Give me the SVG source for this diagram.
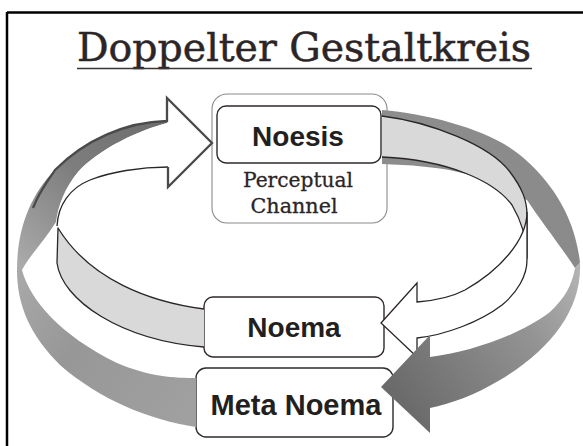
<svg xmlns="http://www.w3.org/2000/svg" width="583" height="446" viewBox="0 0 583 446">
<defs>
<style>
.frame{fill:none;stroke:#000;stroke-width:2.5}
.title{font-family:"DejaVu Serif","Liberation Serif",serif;font-size:40px;fill:#2b2527;stroke:#2b2527;stroke-width:0.5}
.serif{font-family:"DejaVu Serif","Liberation Serif",serif;font-size:21px;fill:#2b2527;stroke:#2b2527;stroke-width:0.3}
.lbl{font-family:"Liberation Sans",Arial,sans-serif;font-weight:bold;fill:#231f20;text-anchor:middle}
.box{fill:#fff;stroke:#2f2a2b;stroke-width:1.4}
.outerbox{fill:#fff;stroke:#8a8a8a;stroke-width:1.1}
.light{fill:#d9d9d9;stroke:#2a2526;stroke-width:1.3;stroke-linejoin:round}
.white{fill:#fff;stroke:#2a2526;stroke-width:1.3;stroke-linejoin:miter}
.edge{fill:none;stroke:#2a2526;stroke-width:1.3}
.thick{fill:none;stroke:#4a4a4a;stroke-width:2.3;stroke-linejoin:miter}
</style>
<linearGradient id="gR1" gradientUnits="userSpaceOnUse" x1="380" y1="110" x2="580" y2="265">
<stop offset="0" stop-color="#8d8d8d"/><stop offset="1" stop-color="#8a8a8a"/>
</linearGradient>
<linearGradient id="gR2" gradientUnits="userSpaceOnUse" x1="578" y1="268" x2="395" y2="395">
<stop offset="0" stop-color="#b3b3b3"/><stop offset="0.35" stop-color="#939393"/><stop offset="1" stop-color="#6a6a6a"/>
</linearGradient>
<linearGradient id="gL1" gradientUnits="userSpaceOnUse" x1="20" y1="270" x2="196" y2="405">
<stop offset="0" stop-color="#a9a9a9"/><stop offset="0.4" stop-color="#979797"/><stop offset="1" stop-color="#a0a0a0"/>
</linearGradient>
<linearGradient id="gL2" gradientUnits="userSpaceOnUse" x1="20" y1="265" x2="167" y2="118">
<stop offset="0" stop-color="#aaaaaa"/><stop offset="0.5" stop-color="#7e7e7e"/><stop offset="1" stop-color="#6c6c6c"/>
</linearGradient>
</defs>

<path class="frame" d="M7,12.5 H583 M7,12 V446"/>

<g id="title">
<text class="title" x="77" y="61" textLength="454" lengthAdjust="spacingAndGlyphs">Doppelter Gestaltkreis</text>
<line x1="77" y1="68.5" x2="532" y2="68.5" stroke="#3a3435" stroke-width="1.6"/>
</g>

<g id="perceptual-channel">
<rect class="outerbox" x="212" y="94" width="175" height="129" rx="15"/>
<text class="serif" x="298" y="187" text-anchor="middle" textLength="110" lengthAdjust="spacingAndGlyphs">Perceptual</text>
<text class="serif" x="294" y="213" text-anchor="middle" textLength="87" lengthAdjust="spacingAndGlyphs">Channel</text>
</g>

<g id="noesis">
<rect class="box" x="217" y="106" width="164" height="57" rx="9"/>
<text class="lbl" x="298" y="146" font-size="28">Noesis</text>
</g>

<g id="noema">
<rect class="box" x="204" y="297" width="180" height="60" rx="9"/>
<text class="lbl" x="294" y="337" font-size="28">Noema</text>
</g>

<g id="meta-noema">
<rect class="box" x="196" y="368" width="197" height="69" rx="10"/>
<text class="lbl" x="296" y="415" font-size="29">Meta Noema</text>
</g>

<g id="connectors">
<!-- outer dark ribbon -->
<path fill="url(#gL1)" d="M22,270 C30,300 60,335 117,363 C150,377 175,378 196,378 L196,427 C150,420 100,400 60,365 C30,335 17,305 17,270 Z"/>
<path fill="url(#gL2)" d="M17,270 C17,230 30,195 55,170 C85,140 125,122 167,121 L167,123 C140,130 100,148 78,172 C65,188 58,205 56,222 C45,240 30,255 22,270 Z"/>
<path fill="url(#gR1)" d="M382,110 C430,114 490,130 520,155 C550,180 575,215 580,263 L575,268 C560,245 540,220 527,200 L505,193 C480,172 440,166 382,164 Z"/>
<!-- inner ribbon -->
<path class="light" d="M382,116 C430,122 490,145 510,172 C522,188 527,200 527,215 L527,258 C527,240 522,222 512,205 C495,182 450,160 382,157"/>
<path class="light" d="M204,309 C150,302 90,280 58,228 L57,263 C62,300 120,340 204,347"/>
<path fill="#fff" d="M212,143 L167,98 L167,123 C140,130 100,148 78,172 C65,188 58,205 57,225 C58,205 70,188 90,180 C110,172 140,167 168,167 L168,187 Z"/>
<path class="edge" d="M57,226 C58,205 70,188 90,180 C110,172 140,167 168,167"/>
<path class="thick" d="M33,208 C40,190 50,178 55,170 C85,140 125,122 167,121 L167,98 L212,143 L168,187 L168,167"/>
<path class="white" d="M527,212 C527,240 500,270 465,290 C450,298 430,301 417,302 L417,283 L381,323 L417,357 L417,338 C445,335 480,322 502,305 C518,292 527,275 527,260 Z"/>
<path fill="url(#gR2)" d="M580,263 C582,310 550,350 500,380 C475,395 450,404 430,408 L430,433 L381,387 L430,335 L430,357 C470,352 520,335 550,312 C565,298 572,285 575,268 Z"/>
</g>
</svg>
